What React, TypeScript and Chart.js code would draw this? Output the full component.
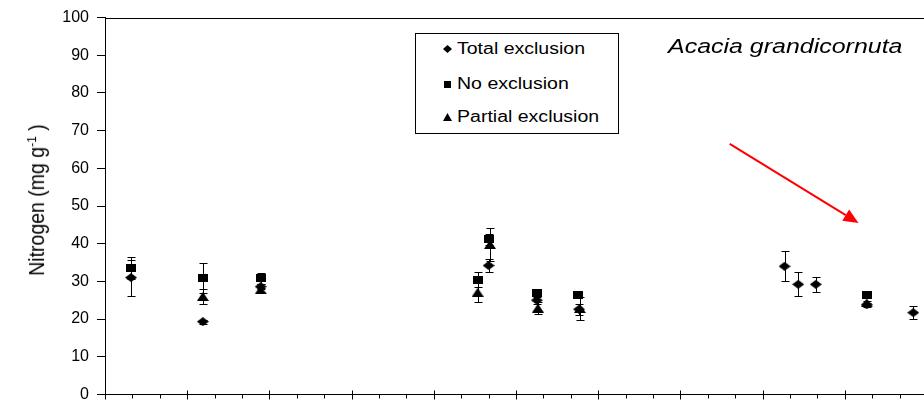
import { useEffect, useRef } from "react";
import { Chart, registerables } from "chart.js";

Chart.register(...registerables);

// Sampling positions are in minor-tick units along the time axis (0–30).
const X_MIN = 0;
const X_MAX = 30;
const MAJOR_EVERY = 3;
const Y_MIN = 0;
const Y_MAX = 100;
const Y_STEP = 10;

const SERIES_NAMES = ["Total exclusion", "No exclusion", "Partial exclusion"];

// Total exclusion (diamonds)
const totalX = [0.95, 3.57, 5.68, 14.0, 15.76, 17.3, 24.8, 25.3, 25.94, 27.8, 29.5];
const totalN = [31.0, 19.3, 28.6, 34.2, 25.0, 22.6, 34.0, 29.2, 29.2, 23.8, 21.7];
const totalErr = [4.8, 0.5, 0.7, 1.8, 1.0, 1.5, 4.0, 3.2, 2.0, 0.5, 1.7];

// No exclusion (squares)
const noneX = [0.95, 3.57, 5.68, 13.6, 14.0, 15.76, 17.27, 27.8];
const noneN = [33.5, 31.0, 30.8, 30.4, 41.2, 26.9, 26.5, 26.5];
const noneErr = [3.0, 4.0, 1.4, 2.0, 1.5, 1.1, 1.0, 0.5];

// Partial exclusion (triangles)
const partialX = [3.57, 5.68, 13.6, 14.05, 15.8, 17.33, 27.8];
const partialN = [26.0, 27.8, 27.1, 39.8, 22.9, 22.8, 24.3];
const partialErr = [2.1, 0.5, 2.7, 4.3, 1.5, 3.0, 0.5];

// Red pointer arrow, in data units (start -> tip)
const ARROW_FROM = { x: 22.8, y: 66.5 };
const ARROW_TO = { x: 27.5, y: 45.5 };

const FONT = "'Liberation Sans', Arial, sans-serif";

type Kind = "diamond" | "square" | "triangle";

function makeMarker(kind: Kind, w: number, h: number): HTMLCanvasElement {
  const c = document.createElement("canvas");
  c.width = w;
  c.height = h;
  const g = c.getContext("2d")!;
  g.fillStyle = "#000";
  g.beginPath();
  if (kind === "diamond") {
    g.moveTo(w / 2, 0);
    g.lineTo(w, h / 2);
    g.lineTo(w / 2, h);
    g.lineTo(0, h / 2);
  } else if (kind === "square") {
    g.rect(0, 0, w, h);
  } else {
    g.moveTo(w / 2, 0);
    g.lineTo(w, h);
    g.lineTo(0, h);
  }
  g.closePath();
  g.fill();
  return c;
}

function toPoints(xs: number[], ys: number[]) {
  return xs.map((x, i) => ({ x, y: ys[i] }));
}

const errorBars = {
  id: "errorBars",
  beforeDatasetsDraw(chart: any) {
    const { ctx, scales } = chart;
    const xs = scales.x;
    const ys = scales.y;
    ctx.save();
    ctx.strokeStyle = "#000";
    ctx.lineWidth = 1;
    chart.data.datasets.forEach((ds: any) => {
      const errs: number[] = ds.errors || [];
      ds.data.forEach((p: any, i: number) => {
        const e = errs[i];
        if (!e) return;
        const px = Math.round(xs.getPixelForValue(p.x)) + 0.5;
        const top = Math.round(ys.getPixelForValue(p.y + e)) + 0.5;
        const bot = Math.round(ys.getPixelForValue(p.y - e)) + 0.5;
        ctx.beginPath();
        ctx.moveTo(px, top);
        ctx.lineTo(px, bot);
        ctx.moveTo(px - 4, top);
        ctx.lineTo(px + 4, top);
        ctx.moveTo(px - 4, bot);
        ctx.lineTo(px + 4, bot);
        ctx.stroke();
      });
    });
    ctx.restore();
  },
};

const axisDecor = {
  id: "axisDecor",
  afterDraw(chart: any) {
    const { ctx, scales, chartArea } = chart;
    const xs = scales.x;
    const ys = scales.y;
    ctx.save();
    ctx.strokeStyle = "#000";
    ctx.lineWidth = 1;
    // top frame line
    const t = Math.round(chartArea.top) + 0.5;
    ctx.beginPath();
    ctx.moveTo(chartArea.left, t);
    ctx.lineTo(chartArea.right, t);
    ctx.stroke();
    // x-axis tick marks: long crossing ticks at majors, short outer ticks at minors
    const b = Math.round(chartArea.bottom) + 0.5;
    for (let v = X_MIN; v <= X_MAX; v++) {
      const px = Math.round(xs.getPixelForValue(v)) + 0.5;
      ctx.beginPath();
      if (v % MAJOR_EVERY === 0) {
        ctx.moveTo(px, b - 4);
        ctx.lineTo(px, b + 5);
      } else {
        ctx.moveTo(px, b);
        ctx.lineTo(px, b + 4);
      }
      ctx.stroke();
    }
    // pointer arrow
    const x0 = xs.getPixelForValue(ARROW_FROM.x);
    const y0 = ys.getPixelForValue(ARROW_FROM.y);
    const x1 = xs.getPixelForValue(ARROW_TO.x);
    const y1 = ys.getPixelForValue(ARROW_TO.y);
    const ang = Math.atan2(y1 - y0, x1 - x0);
    const headLen = 15;
    const headHalf = 6.5;
    const bx = x1 - headLen * Math.cos(ang);
    const by = y1 - headLen * Math.sin(ang);
    ctx.strokeStyle = "#ff0000";
    ctx.fillStyle = "#ff0000";
    ctx.lineWidth = 2;
    ctx.beginPath();
    ctx.moveTo(x0, y0);
    ctx.lineTo(bx, by);
    ctx.stroke();
    ctx.beginPath();
    ctx.moveTo(x1, y1);
    ctx.lineTo(bx + headHalf * Math.sin(ang), by - headHalf * Math.cos(ang));
    ctx.lineTo(bx - headHalf * Math.sin(ang), by + headHalf * Math.cos(ang));
    ctx.closePath();
    ctx.fill();
    ctx.restore();
  },
};

function LegendMark({ kind }: { kind: Kind }) {
  const w = 9;
  const h = 8;
  let d = "";
  if (kind === "diamond") d = `M${w / 2} 0 L${w} ${h / 2} L${w / 2} ${h} L0 ${h / 2} Z`;
  else if (kind === "square") d = `M1 1 H${w - 1} V${h} H1 Z`;
  else d = `M${w / 2} 0 L${w} ${h} L0 ${h} Z`;
  return (
    <svg width={w} height={h} style={{ display: "block" }}>
      <path d={d} fill="#000" />
    </svg>
  );
}

export default function App() {
  const ref = useRef<HTMLCanvasElement | null>(null);

  useEffect(() => {
    if (!ref.current) return;
    const markers = {
      diamond: makeMarker("diamond", 12, 9),
      square: makeMarker("square", 10, 8),
      triangle: makeMarker("triangle", 12, 9),
    };
    const chart = new Chart(ref.current, {
      type: "scatter",
      data: {
        datasets: [
          {
            label: SERIES_NAMES[1],
            data: toPoints(noneX, noneN),
            errors: noneErr,
            pointStyle: markers.square,
          } as any,
          {
            label: SERIES_NAMES[2],
            data: toPoints(partialX, partialN),
            errors: partialErr,
            pointStyle: markers.triangle,
          } as any,
          {
            label: SERIES_NAMES[0],
            data: toPoints(totalX, totalN),
            errors: totalErr,
            pointStyle: markers.diamond,
          } as any,
        ],
      },
      options: {
        responsive: false,
        animation: false,
        events: [],
        layout: { padding: { left: 0, right: 7, top: 15, bottom: 6 } },
        plugins: {
          legend: { display: false },
          tooltip: { enabled: false },
        },
        scales: {
          x: {
            type: "linear",
            min: X_MIN,
            max: X_MAX,
            grid: { display: false },
            ticks: { display: false },
            border: { display: true, color: "#000", width: 1 },
          },
          y: {
            type: "linear",
            min: Y_MIN,
            max: Y_MAX,
            afterFit: (s: any) => {
              s.width = 105;
            },
            ticks: {
              stepSize: Y_STEP,
              color: "#000",
              padding: 8,
              font: { family: FONT, size: 16 },
            },
            grid: {
              drawOnChartArea: false,
              drawTicks: true,
              tickLength: 8,
              color: "#000",
            },
            border: { display: true, color: "#000", width: 1 },
          },
        },
      },
      plugins: [errorBars, axisDecor],
    });
    return () => chart.destroy();
  }, []);

  const rows: { kind: Kind; name: string; top: number }[] = [
    { kind: "diamond", name: SERIES_NAMES[0], top: 49 },
    { kind: "square", name: SERIES_NAMES[1], top: 84 },
    { kind: "triangle", name: SERIES_NAMES[2], top: 117 },
  ];

  return (
    <div
      style={{
        position: "fixed",
        left: 0,
        top: 0,
        width: 924,
        height: 412,
        overflow: "hidden",
        background: "#fff",
        fontFamily: FONT,
      }}
    >
      <canvas ref={ref} width={934} height={412} style={{ width: 934, height: 412, display: "block" }} />
      <div
        style={{
          position: "absolute",
          left: 37,
          top: 200,
          transform: "translate(-50%, -50%) rotate(-90deg) scaleY(1.1)",
          whiteSpace: "nowrap",
          fontSize: 19.5,
          color: "#000",
        }}
      >
        Nitrogen (mg g<sup style={{ fontSize: 12 }}>-1</sup> )
      </div>
      <div
        style={{
          position: "absolute",
          left: 415,
          top: 33,
          width: 202,
          height: 99,
          border: "1px solid #000",
          background: "#fff",
        }}
      />
      {rows.map((r) => (
        <div
          key={r.name}
          style={{
            position: "absolute",
            left: 443,
            top: r.top,
            transform: "translateY(-50%)",
            display: "flex",
            alignItems: "center",
            gap: 5,
            color: "#000",
            whiteSpace: "nowrap",
          }}
        >
          <LegendMark kind={r.kind} />
          <span
            style={{
              display: "inline-block",
              fontSize: 16,
              transform: "scaleX(1.22)",
              transformOrigin: "left center",
            }}
          >
            {r.name}
          </span>
        </div>
      ))}
      <div
        style={{
          position: "absolute",
          left: 668,
          top: 46,
          transform: "translateY(-50%) scaleX(1.28)",
          transformOrigin: "left center",
          fontStyle: "italic",
          fontSize: 19.5,
          color: "#000",
          whiteSpace: "nowrap",
        }}
      >
        Acacia grandicornuta
      </div>
    </div>
  );
}
